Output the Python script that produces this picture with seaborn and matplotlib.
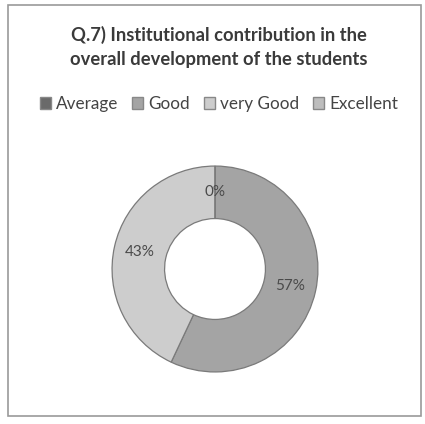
import numpy as np
import matplotlib
matplotlib.use("Agg")
import matplotlib.pyplot as plt
import seaborn as sns
from matplotlib.patches import Patch, Rectangle

# data
categories = ["Average", "Good", "very Good", "Excellent"]
values = [0, 57, 43, 0]
pct_labels = ["0%", "57%", "43%", None]
colors = ["#6a6a6a", "#a4a4a4", "#cdcdcd", "#bdbdbd"]

sns.set_style("white")
plt.rcParams['font.family'] = ['Lato', 'DejaVu Sans']

fig = plt.figure(figsize=(4.25, 4.24), dpi=100)
fig.patch.set_facecolor("white")

# frame of the scanned chart
fig.add_artist(Rectangle((8 / 425, 1 - 416 / 424), 413 / 425, 411 / 424,
                         transform=fig.transFigure, fill=False,
                         edgecolor="#9a9a9a", linewidth=1.2))

fig.text(0.515, 1 - 35 / 424, "Q.7) Institutional contribution in the",
         ha="center", va="center", fontsize=13.2, fontweight="bold", color="#3a3a3a")
fig.text(0.515, 1 - 59 / 424, "overall development of the students",
         ha="center", va="center", fontsize=13.2, fontweight="bold", color="#3a3a3a")

handles = [Patch(facecolor=c, edgecolor="#888888") for c in colors]
fig.legend(handles, categories, loc="center", bbox_to_anchor=(0.515, 1 - 104 / 424),
           ncol=4, frameon=False, fontsize=12.3, handlelength=0.65, handleheight=0.65,
           handletextpad=0.3, columnspacing=0.8, labelcolor="#444444")

cx, cy, r = 215, 269, 105
ax = fig.add_axes([(cx - r) / 425, (424 - cy - r) / 424, 2 * r / 425, 2 * r / 424])
wedges, _ = ax.pie(values, colors=colors, startangle=90, counterclock=False,
                   radius=1, wedgeprops=dict(width=0.51, edgecolor="#7a7a7a", linewidth=0.9))
ax.set_xlim(-1.02, 1.02)
ax.set_ylim(-1.02, 1.02)
ax.set_aspect("equal")
ax.axis("off")

for w, lab in zip(wedges, pct_labels):
    if lab is None:
        continue
    ang = np.deg2rad((w.theta1 + w.theta2) / 2)
    ax.text(0.75 * np.cos(ang), 0.75 * np.sin(ang), lab, ha="center", va="center",
            fontsize=11, color="#4a4a4a")

plt.savefig("out.png", dpi=100)
